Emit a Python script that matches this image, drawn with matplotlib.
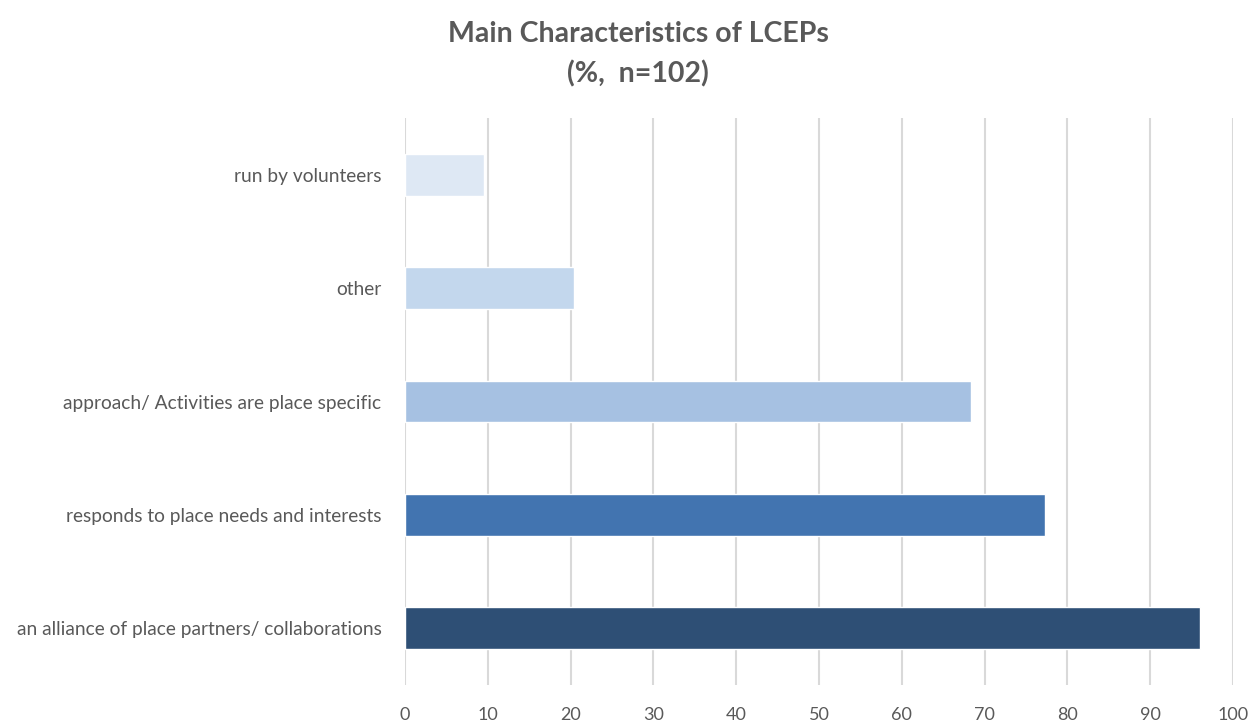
import matplotlib.pyplot as plt

# data, bottom to top as drawn
categories = ["an alliance of place partners/ collaborations",
              "responds to place needs and interests",
              "approach/ Activities are place specific",
              "other",
              "run by volunteers"]
values = [96.0, 77.3, 68.4, 20.4, 9.6]
bar_colors = ["#2E4F75", "#4274B0", "#A6C1E2", "#C3D7ED", "#DEE8F4"]
xticks = list(range(0, 101, 10))

plt.rcParams['font.family'] = ['Lato', 'DejaVu Sans']

fig = plt.figure(figsize=(12.49, 7.22), dpi=100)
ax = fig.add_axes([405/1249, 1-685/722, (1233-405)/1249, (685-118)/722])

ax.barh(range(len(categories)), values, height=0.37, color=bar_colors,
        edgecolor="white", linewidth=1, zorder=3)

ax.set_xlim(0, 100)
ax.set_ylim(-0.5, len(categories) - 0.5)
ax.set_xticks(xticks)
ax.set_yticks(range(len(categories)))
ax.set_yticklabels(categories, fontsize=13.8)
ax.tick_params(axis='both', length=0, colors="#595959")
ax.tick_params(axis='x', pad=16, labelsize=13)
ax.tick_params(axis='y', pad=17)
ax.grid(axis='x', color="#D9D9D9", linewidth=1.5, zorder=0)
for s in ax.spines.values():
    s.set_visible(False)

fig.text(638/1249, 1-34/722, "Main Characteristics of LCEPs", ha='center', va='center',
         fontsize=20.5, fontweight='bold', color="#595959")
fig.text(638/1249, 1-74/722, "(%,  n=102)", ha='center', va='center',
         fontsize=20.5, fontweight='bold', color="#595959")

fig.savefig("out.png", dpi=100)
